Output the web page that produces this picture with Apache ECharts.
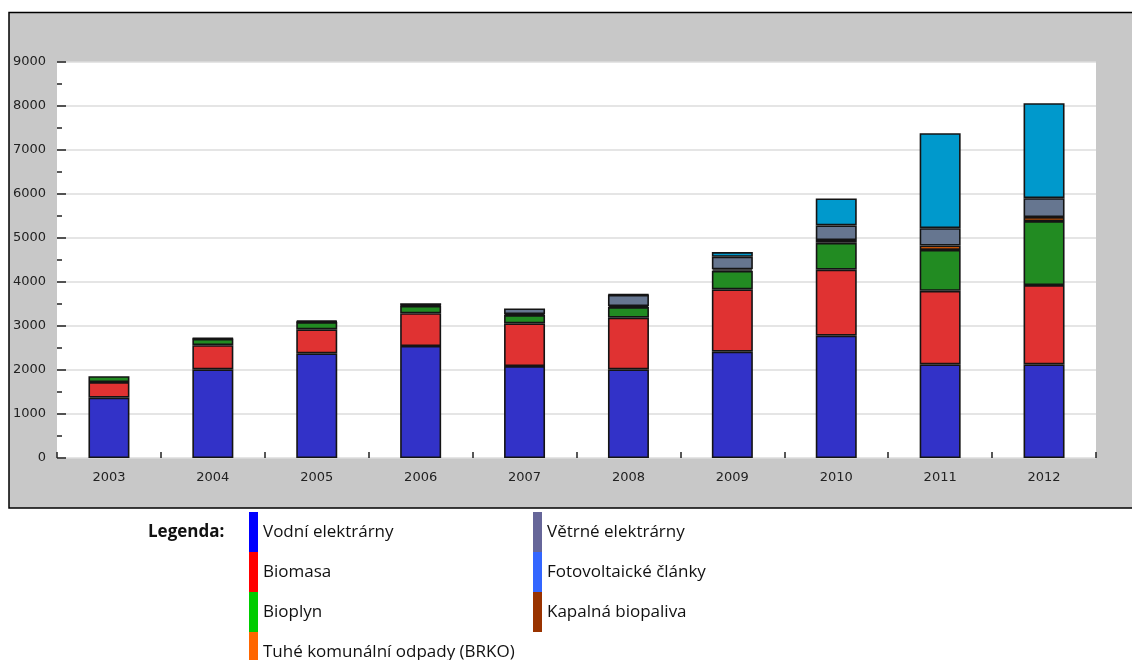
<!DOCTYPE html>
<html>
<head>
<meta charset="utf-8">
<title>Výroba elektřiny z obnovitelných zdrojů</title>
<script src="https://cdn.jsdelivr.net/npm/echarts@6/dist/echarts.min.js"></script>
<style>
  html, body { margin: 0; padding: 0; background: #ffffff; }
  #chart { width: 1132px; height: 660px; }
</style>
</head>
<body>
<div id="chart"></div>
<script>
// Roky a výroba elektřiny podle zdroje (GWh)
const years = ['2003', '2004', '2005', '2006', '2007', '2008', '2009', '2010', '2011', '2012'];
const vodni    = [1370, 2015, 2380, 2545, 2090, 2016, 2416, 2780, 2130, 2130];
const biomasa  = [355, 550, 545, 745, 970, 1173, 1418, 1500, 1670, 1800];
const bioplyn  = [135, 140, 165, 165, 189, 240, 420, 610, 930, 1455];
const brko     = [null, 10, 10, 12, 20, 25, 35, 65, 98, 90];
const vetrne   = [null, 10, 21, 50, 129, 255, 285, 330, 395, 430];
const foto     = [null, null, null, null, null, 13, 105, 615, 2160, 2160];
const kapalna  = [null, null, null, null, null, null, null, null, null, null];

const yTicks = { min: 0, max: 9000, step: 1000 };

// Barvy sloupců a barvy v legendě
const seriesDefs = [
  { name: 'Vodní elektrárny', data: vodni, bar: '#3232c8', key: '#0000ff' },
  { name: 'Biomasa', data: biomasa, bar: '#e03232', key: '#ff0000' },
  { name: 'Bioplyn', data: bioplyn, bar: '#228b22', key: '#00cc00' },
  { name: 'Tuhé komunální odpady (BRKO)', data: brko, bar: '#ff6600', key: '#ff6600' },
  { name: 'Větrné elektrárny', data: vetrne, bar: '#667690', key: '#666699' },
  { name: 'Fotovoltaické články', data: foto, bar: '#0099cc', key: '#3366ff' },
  { name: 'Kapalná biopaliva', data: kapalna, bar: '#993300', key: '#993300' }
];

const legendFont = { fontFamily: 'Open Sans', fontSize: 17, color: '#111' };
const legendCommon = {
  orient: 'vertical',
  itemWidth: 9,
  itemHeight: 40,
  itemGap: 0,
  icon: 'rect',
  selectedMode: false,
  padding: 0,
  itemStyle: { borderWidth: 0 },
  textStyle: legendFont
};
const legendItem = d => ({ name: d.name, itemStyle: { color: d.key, borderWidth: 0 } });
const legendBlock = (left, top, items) =>
  Object.assign({ left: left, top: top, data: items.map(legendItem) }, legendCommon);

const chart = echarts.init(document.getElementById('chart'), null, { renderer: 'canvas' });

chart.setOption({
  animation: false,
  backgroundColor: '#ffffff',
  graphic: [
    {
      type: 'rect',
      z: -10,
      silent: true,
      shape: { x: 9, y: 12.5, width: 1140, height: 495.5 },
      style: { fill: '#c8c8c8', stroke: '#000000', lineWidth: 1.5 }
    },
    {
      type: 'text',
      silent: true,
      x: 148,
      y: 532,
      style: {
        text: 'Legenda:',
        fontFamily: 'Open Sans',
        fontWeight: 'bold',
        fontSize: 17,
        fill: '#111',
        verticalAlign: 'middle'
      }
    }
  ],
  legend: [
    legendBlock(249, 512, seriesDefs.slice(0, 3)),
    legendBlock(249, 632, seriesDefs.slice(3, 4)),
    legendBlock(533, 512, seriesDefs.slice(4))
  ],
  grid: {
    left: 57,
    right: 36,
    top: 62,
    bottom: 202,
    show: true,
    backgroundColor: '#ffffff',
    borderWidth: 0
  },
  xAxis: {
    type: 'category',
    data: years,
    boundaryGap: true,
    axisLine: { show: false },
    axisTick: { show: true, inside: true, length: 6, lineStyle: { color: '#222', width: 1.5 } },
    axisLabel: { margin: 13, fontFamily: 'DejaVu Sans', fontSize: 13, color: '#222' },
    splitLine: { show: false }
  },
  yAxis: {
    type: 'value',
    min: yTicks.min,
    max: yTicks.max,
    interval: yTicks.step,
    axisLine: { show: false },
    axisTick: { show: true, inside: true, length: 9, lineStyle: { color: '#222', width: 1.5 } },
    minorTick: { show: true, splitNumber: 2, length: 5, lineStyle: { color: '#222', width: 1.5 } },
    axisLabel: {
      margin: 11,
      fontFamily: 'DejaVu Sans',
      fontSize: 13,
      color: '#222',
      formatter: v => String(v)
    },
    splitLine: { show: true, lineStyle: { color: '#dcdcdc', width: 1.5 } }
  },
  series: seriesDefs.map(d => ({
    name: d.name,
    type: 'bar',
    stack: 'celkem',
    data: d.data,
    barWidth: 41,
    itemStyle: { color: d.bar, borderColor: '#141414', borderWidth: 1.6 },
    emphasis: { disabled: true }
  }))
});
</script>
</body>
</html>
